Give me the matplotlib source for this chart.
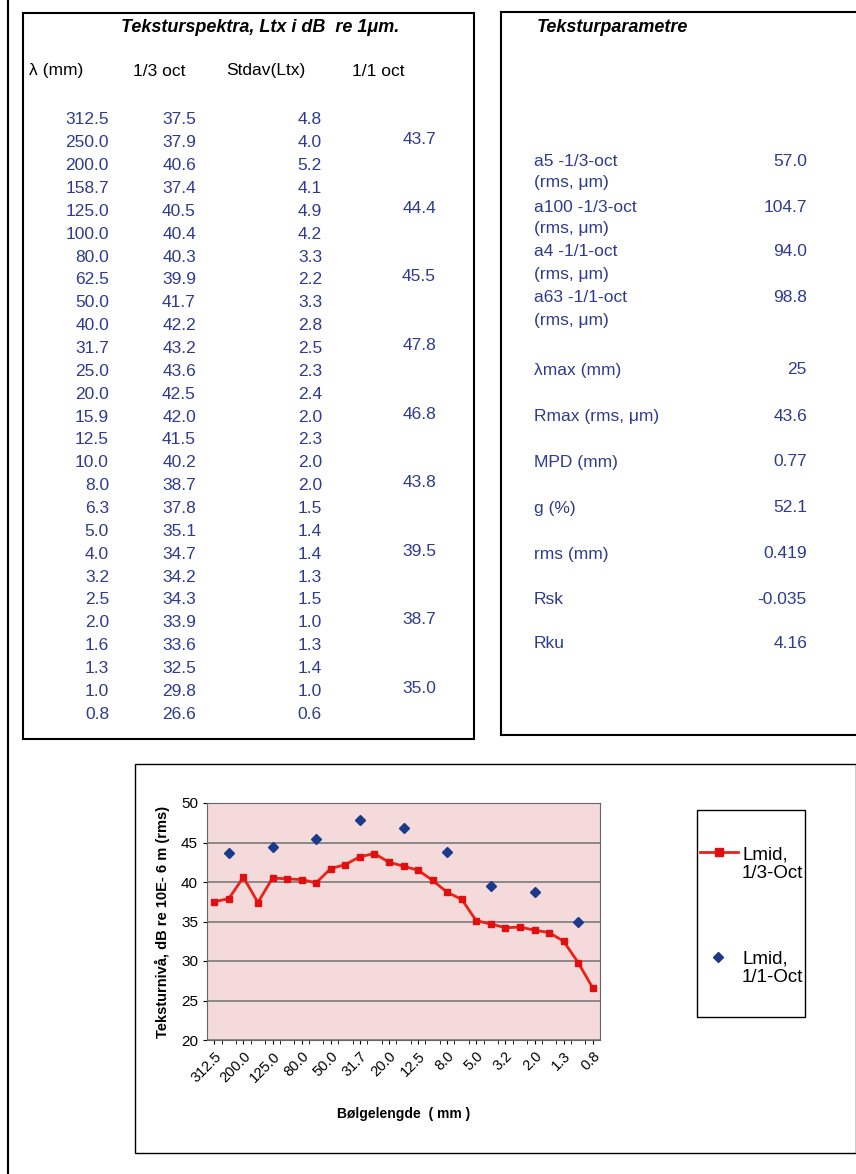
import matplotlib.pyplot as plt
from matplotlib.lines import Line2D
from matplotlib.patches import Rectangle

plt.rcParams['font.family'] = ['Liberation Sans', 'DejaVu Sans']

# Table data (texture spectrum)
wavelength = ['312.5', '250.0', '200.0', '158.7', '125.0', '100.0', '80.0', '62.5', '50.0',
              '40.0', '31.7', '25.0', '20.0', '15.9', '12.5', '10.0', '8.0', '6.3', '5.0',
              '4.0', '3.2', '2.5', '2.0', '1.6', '1.3', '1.0', '0.8']
third_oct = [37.5, 37.9, 40.6, 37.4, 40.5, 40.4, 40.3, 39.9, 41.7, 42.2, 43.2, 43.6, 42.5,
             42.0, 41.5, 40.2, 38.7, 37.8, 35.1, 34.7, 34.2, 34.3, 33.9, 33.6, 32.5, 29.8, 26.6]
stdav = [4.8, 4.0, 5.2, 4.1, 4.9, 4.2, 3.3, 2.2, 3.3, 2.8, 2.5, 2.3, 2.4, 2.0, 2.3, 2.0,
         2.0, 1.5, 1.4, 1.4, 1.3, 1.5, 1.0, 1.3, 1.4, 1.0, 0.6]
full_oct_wl = ['250.0', '125.0', '62.5', '31.7', '15.9', '8.0', '4.0', '2.0', '1.0']
full_oct = [43.7, 44.4, 45.5, 47.8, 46.8, 43.8, 39.5, 38.7, 35.0]

# Texture parameters
param_labels = ['a5 -1/3-oct\n(rms, μm)', 'a100 -1/3-oct\n(rms, μm)', 'a4 -1/1-oct\n(rms, μm)',
                'a63 -1/1-oct\n(rms, μm)', 'λmax (mm)', 'Rmax (rms, μm)', 'MPD (mm)', 'g (%)',
                'rms (mm)', 'Rsk', 'Rku']
param_values = ['57.0', '104.7', '94.0', '98.8', '25', '43.6', '0.77', '52.1', '0.419',
                '-0.035', '4.16']
param_y = [161, 207, 252, 298, 370, 416, 462, 508, 554, 600, 644]

W, H = 856, 1174
fig = plt.figure(figsize=(W / 100, H / 100), dpi=100)


def P(x, y):
    return x / W, 1 - y / H


def line(x0, y0, x1, y1, lw=1.5, color='black'):
    a, b = P(x0, y0)
    c, d = P(x1, y1)
    fig.add_artist(Line2D([a, c], [b, d], lw=lw, color=color, transform=fig.transFigure))


def box(x0, y0, x1, y1, lw=1.5):
    a, b = P(x0, y1)
    fig.add_artist(Rectangle((a, b), (x1 - x0) / W, (y1 - y0) / H, fill=False, lw=lw,
                             ec='black', transform=fig.transFigure))


def txt(x, y, s, **kw):
    a, b = P(x, y)
    fig.text(a, b, s, va='center', **kw)


blue_txt = '#2e3b8f'
red = '#e8231a'
navy = '#1c3a8c'

# page border and boxes
line(8, 0, 8, H, lw=1.5)
box(23, 13, 474, 739)
line(501, 12, W, 12)
line(501, 12, 501, 735)
line(501, 735, W, 735)
box(135, 764, 856, 1153, lw=1.0)

# left table
txt(260, 27, 'Teksturspektra, Ltx i dB  re 1μm.', ha='center', fontsize=13,
    fontweight='bold', fontstyle='italic')
txt(29, 71, 'λ (mm)', fontsize=12.5)
txt(133, 71, '1/3 oct', fontsize=12.5)
txt(226, 71, 'Stdav(Ltx)', fontsize=12.5)
txt(352, 71, '1/1 oct', fontsize=12.5)
y0, dy = 120, 22.85
for i, wl in enumerate(wavelength):
    y = y0 + i * dy
    txt(109, y, wl, ha='right', fontsize=12.5, color=blue_txt)
    txt(196, y, f'{third_oct[i]:.1f}', ha='right', fontsize=12.5, color=blue_txt)
    txt(322, y, f'{stdav[i]:.1f}', ha='right', fontsize=12.5, color=blue_txt)
for wl, v in zip(full_oct_wl, full_oct):
    i = wavelength.index(wl)
    txt(436, y0 + i * dy - 3, f'{v:.1f}', ha='right', fontsize=12.5, color=blue_txt)

# right table
txt(537, 27, 'Teksturparametre', fontsize=13, fontweight='bold', fontstyle='italic')
for lab, val, y in zip(param_labels, param_values, param_y):
    parts = lab.split('\n')
    for k, p in enumerate(parts):
        txt(534, y + k * 22, p, fontsize=12.5, color=blue_txt)
    txt(807, y, val, ha='right', fontsize=12.5, color=blue_txt)

# chart
ax = fig.add_axes([207 / W, 1 - 1040 / H, 393 / W, 237 / H])
ax.set_facecolor('#f4dada')
x = list(range(len(wavelength)))
ax.set_xlim(-0.5, len(wavelength) - 0.5)
ax.set_ylim(20, 50)
ax.set_yticks(range(20, 51, 5))
ax.yaxis.grid(True, color='#7a7a7a', lw=1.2)
ax.set_axisbelow(True)
ax.plot(x, third_oct, color=red, lw=2, marker='s', markersize=5,
        markerfacecolor='#e01010', markeredgecolor='#e01010')
fx = [wavelength.index(w) for w in full_oct_wl]
ax.plot(fx, full_oct, ls='none', marker='D', markersize=5, color=navy)
ax.set_xticks(x[::2])
ax.set_xticklabels(wavelength[::2], rotation=45, ha='right', rotation_mode='anchor',
                   fontsize=10.5)
ax.set_xticks([i + 0.5 for i in x[:-1]], minor=True)
ax.tick_params(axis='x', which='major', length=3)
ax.tick_params(axis='x', which='minor', length=3)
ax.tick_params(axis='y', labelsize=11, length=3)
for s in ax.spines.values():
    s.set_color('#666666')
ax.set_xlabel('Bølgelengde  ( mm )', fontsize=10, fontweight='bold', labelpad=16)
ax.set_ylabel('Teksturnivå, dB re 10E- 6 m (rms)', fontsize=10.5, fontweight='bold',
              labelpad=8)

# legend box
box(697, 810, 805, 1017, lw=1.0)
xs = [P(700, 852)[0], P(719, 852)[0], P(738, 852)[0]]
ys = [P(700, 852)[1]] * 3
fig.add_artist(Line2D(xs, ys, lw=2, color=red, marker='s', markersize=6, markevery=[1],
                      markerfacecolor='#e01010', markeredgecolor='#e01010',
                      transform=fig.transFigure))
a, b = P(718, 957)
fig.add_artist(Line2D([a], [b], ls='none', marker='D', markersize=5, color=navy,
                      transform=fig.transFigure))
txt(742, 864, 'Lmid,\n1/3-Oct', fontsize=13.5, linespacing=1.1)
txt(742, 968, 'Lmid,\n1/1-Oct', fontsize=13.5, linespacing=1.1)

fig.savefig('out.png', dpi=100)
